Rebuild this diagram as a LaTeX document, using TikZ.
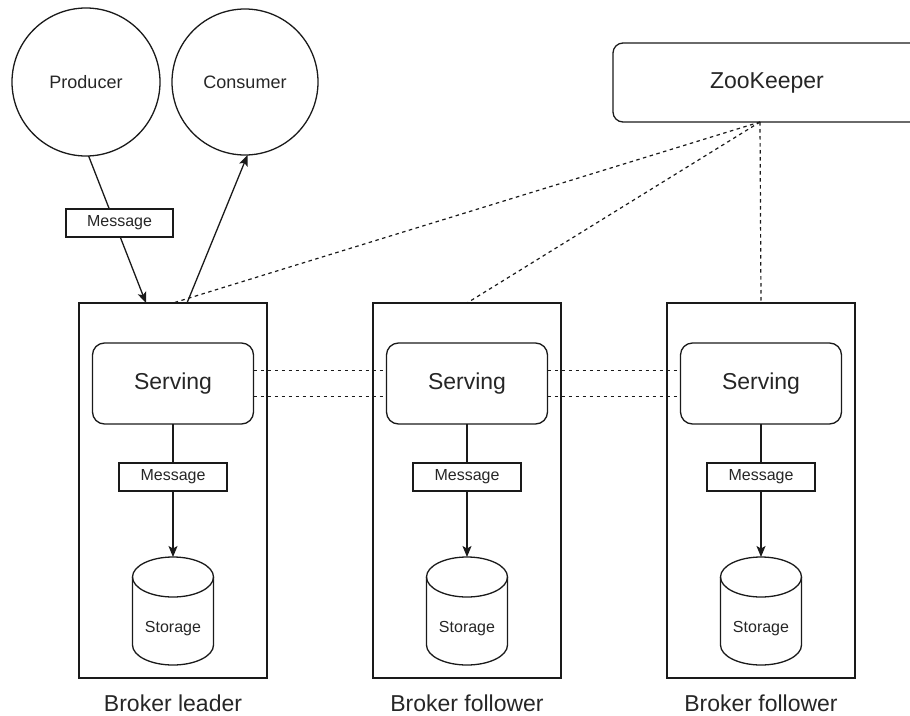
\documentclass[tikz,border=0pt]{standalone}
\usepackage{fontspec}
\setmainfont{Liberation Sans}
\usetikzlibrary{arrows.meta,calc}
\definecolor{txt}{HTML}{262626}
\definecolor{ln}{HTML}{1A1A1A}
\tikzset{
  every node/.style={text=txt, inner sep=0pt, outer sep=0pt},
  base/.style={draw=ln, line width=1.3pt},
  circ/.style={base, circle, minimum size=#1, font=\fontsize{18}{21}\selectfont},
  servbox/.style={base, rectangle, rounded corners=12pt, minimum width=161pt, minimum height=81pt, font=\fontsize{23}{27}\selectfont},
  brokerbox/.style={base, rectangle, minimum width=188pt, minimum height=375pt},
  msgbox/.style={base, rectangle, fill=white, minimum width=108pt, minimum height=28pt, font=\fontsize{16}{19}\selectfont},
  storebody/.style={rectangle, minimum width=81pt, minimum height=108pt},
  storetext/.style={font=\fontsize{16}{19}\selectfont},
  brokerlabel/.style={font=\fontsize{23}{27}\selectfont},
  conn/.style={draw=ln, line width=1.3pt},
  arr/.style={conn, -{Stealth[length=11pt,width=9pt,inset=2.5pt]}},
  dashconn/.style={draw=ln, line width=1.2pt, dash pattern=on 3.5pt off 3.5pt},
}
\newcommand{\cylshape}[1]{%
  \draw[base] ([yshift=-20pt]#1.north west) -- ([yshift=20pt]#1.south west)
    arc[start angle=180, end angle=360, x radius=40.5pt, y radius=20pt]
    -- ([yshift=-20pt]#1.north east);
  \draw[base] ([yshift=-20pt]#1.north) ellipse[x radius=40.5pt, y radius=20pt];
}
\begin{document}
\begin{tikzpicture}[x=1pt, y=-1pt]
\useasboundingbox (0,0) rectangle (910,715);

% top nodes
\node[circ=148pt] (prod) at (86,82) {Producer};
\node[circ=146pt] (cons) at (245,82) {Consumer};
\node[base, rectangle, rounded corners=10pt, minimum width=308pt, minimum height=79pt,
      font=\fontsize{23}{27}\selectfont] (zk) at (767,82.5) {ZooKeeper};
\coordinate (zkp) at ([xshift=-7pt]zk.south);

% broker boxes
\node[brokerbox] (b1) at (173,490.5) {};
\node[brokerbox] (b2) at (467,490.5) {};
\node[brokerbox] (b3) at (761,490.5) {};

% serving
\node[servbox] (s1) at (173,383.5) {Serving};
\node[servbox] (s2) at (467,383.5) {Serving};
\node[servbox] (s3) at (761,383.5) {Serving};

% storage bodies
\node[storebody] (st1) at (173,611) {};
\node[storebody] (st2) at (467,611) {};
\node[storebody] (st3) at (761,611) {};
\cylshape{st1}
\cylshape{st2}
\cylshape{st3}
\node[storetext] (stt1) at (173,629) {Storage};
\node[storetext] (stt2) at (467,629) {Storage};
\node[storetext] (stt3) at (761,629) {Storage};

% message boxes inside brokers
\node[msgbox] (m1) at (173,477) {Message};
\node[msgbox] (m2) at (467,477) {Message};
\node[msgbox] (m3) at (761,477) {Message};

\foreach \i in {1,2,3}{
  \draw[conn] (s\i.south) -- (m\i.north);
  \draw[arr] (m\i.south) -- (st\i.north);
}

% producer / consumer arrows
\draw[arr] (prod.-88) -- ([xshift=-27pt]b1.north);
\draw[arr] ([xshift=14pt]b1.north) -- (cons.-88);
\node[msgbox, minimum width=107pt] (pm) at (119.5,223) {Message};

% zookeeper dashed links
\draw[dashconn] (zkp) -- (b1.north);
\draw[dashconn] (zkp) -- (b2.north);
\draw[dashconn] (zkp) -- (b3.north);

% serving replication dashed links
\draw[dashconn] ([yshift=13pt]s1.east) -- ([yshift=13pt]s2.west);
\draw[dashconn] ([yshift=-13pt]s1.east) -- ([yshift=-13pt]s2.west);
\draw[dashconn] ([yshift=13pt]s2.east) -- ([yshift=13pt]s3.west);
\draw[dashconn] ([yshift=-13pt]s2.east) -- ([yshift=-13pt]s3.west);

% labels
\node[brokerlabel] (l1) at (173,703) {Broker leader};
\node[brokerlabel] (l2) at (467,703) {Broker follower};
\node[brokerlabel] (l3) at (761,703) {Broker follower};
\end{tikzpicture}
\end{document}
